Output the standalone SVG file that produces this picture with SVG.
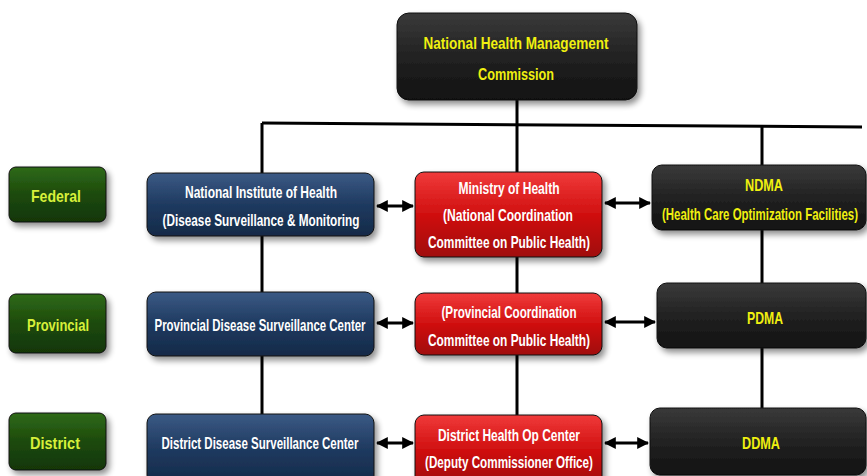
<svg xmlns="http://www.w3.org/2000/svg" width="867" height="476" viewBox="0 0 867 476">
<defs>
<linearGradient id="gBlack" x1="0" y1="0" x2="0" y2="1"><stop offset="0" stop-color="#3a3a3a"/><stop offset="0.5" stop-color="#222"/><stop offset="1" stop-color="#111"/></linearGradient>
<linearGradient id="gBlue" x1="0" y1="0" x2="0" y2="1"><stop offset="0" stop-color="#3b5a85"/><stop offset="0.5" stop-color="#1f3a60"/><stop offset="1" stop-color="#142a48"/></linearGradient>
<linearGradient id="gRed" x1="0" y1="0" x2="0" y2="1"><stop offset="0" stop-color="#f03a3a"/><stop offset="0.5" stop-color="#d01010"/><stop offset="1" stop-color="#a00808"/></linearGradient>
<linearGradient id="gGreen" x1="0" y1="0" x2="0" y2="1"><stop offset="0" stop-color="#2f6a18"/><stop offset="0.5" stop-color="#1d4a0c"/><stop offset="1" stop-color="#123606"/></linearGradient>
<filter id="sh" x="-10%" y="-10%" width="130%" height="140%"><feGaussianBlur in="SourceAlpha" stdDeviation="3"/><feOffset dx="3" dy="4"/><feComponentTransfer><feFuncA type="linear" slope="0.45"/></feComponentTransfer><feMerge><feMergeNode/><feMergeNode in="SourceGraphic"/></feMerge></filter>
<marker id="ah" viewBox="0 0 10 10" refX="9" refY="5" markerWidth="4" markerHeight="4" orient="auto-start-reverse"><path d="M0,0 L10,5 L0,10 z" fill="#000"/></marker>
</defs>
<style>
text{font-family:"Liberation Sans",Arial,sans-serif;font-weight:bold;text-anchor:middle;dominant-baseline:central;font-size:17px}
.y{fill:#f0f010}
.w{fill:#ffffff}
.lg{fill:#d6f03a}
.box{stroke:#111;stroke-width:1;filter:url(#sh)}
.bk{fill:url(#gBlack)}
.bl{fill:url(#gBlue)}
.rd{fill:url(#gRed)}
.gr{fill:url(#gGreen)}
.ln{stroke:#000;stroke-width:3;fill:none}
.ar{stroke:#000;stroke-width:3;fill:none;marker-start:url(#ah);marker-end:url(#ah)}
</style>
<g id="connectors">
<line class="ln" x1="517" y1="100" x2="517" y2="415"/>
<path class="ln" d="M262,123 L862,127"/>
<line class="ln" x1="262" y1="123" x2="262" y2="414"/>
<line class="ln" x1="762" y1="126" x2="762" y2="408"/>
<line class="ar" x1="377" y1="206" x2="413" y2="206"/>
<line class="ar" x1="605" y1="203" x2="650" y2="203"/>
<line class="ar" x1="377" y1="323" x2="413" y2="323"/>
<line class="ar" x1="605" y1="322" x2="655" y2="322"/>
<line class="ar" x1="377" y1="443" x2="413" y2="443"/>
<line class="ar" x1="605" y1="443" x2="648" y2="443"/>
</g>
<g id="nhmc"><rect class="box bk" x="397" y="13" width="240" height="87" rx="12"/><text class="y" x="516" y="43" font-size="19" textLength="185" lengthAdjust="spacingAndGlyphs">National Health Management</text><text class="y" x="516" y="74" font-size="19" textLength="76" lengthAdjust="spacingAndGlyphs">Commission</text></g>
<g id="federal"><rect class="box gr" x="9" y="167" width="97" height="55" rx="7"/><text class="lg" x="56" y="196" font-size="19" textLength="50" lengthAdjust="spacingAndGlyphs">Federal</text></g>
<g id="provincial"><rect class="box gr" x="9" y="294" width="97" height="59" rx="7"/><text class="lg" x="58" y="325" font-size="19" textLength="62" lengthAdjust="spacingAndGlyphs">Provincial</text></g>
<g id="district"><rect class="box gr" x="9" y="413" width="97" height="57" rx="7"/><text class="lg" x="55" y="443" font-size="19" textLength="50" lengthAdjust="spacingAndGlyphs">District</text></g>
<g id="nih"><rect class="box bl" x="147" y="173" width="227" height="63" rx="9"/><text class="w" x="261" y="192" textLength="152" lengthAdjust="spacingAndGlyphs">National Institute of Health</text><text class="w" x="261" y="220" textLength="197" lengthAdjust="spacingAndGlyphs">(Disease Surveillance &amp; Monitoring</text></g>
<g id="moh"><rect class="box rd" x="415" y="172" width="187" height="85" rx="9"/><text class="w" x="509" y="188" textLength="101" lengthAdjust="spacingAndGlyphs">Ministry of Health</text><text class="w" x="508" y="215" textLength="130" lengthAdjust="spacingAndGlyphs">(National Coordination</text><text class="w" x="509" y="242" textLength="162" lengthAdjust="spacingAndGlyphs">Committee on Public Health)</text></g>
<g id="ndma"><rect class="box bk" x="652" y="165" width="214" height="65" rx="10"/><text class="y" x="764" y="185" textLength="38" lengthAdjust="spacingAndGlyphs">NDMA</text><text class="y" x="0" y="0" transform="translate(760,214) scale(0.66,1)" textLength="297" lengthAdjust="spacingAndGlyphs">(Health Care Optimization Facilities)</text></g>
<g id="pdsc"><rect class="box bl" x="147" y="292" width="227" height="64" rx="9"/><text class="w" x="260" y="325" textLength="211" lengthAdjust="spacingAndGlyphs">Provincial Disease Surveillance Center</text></g>
<g id="pccph"><rect class="box rd" x="415" y="293" width="187" height="62" rx="9"/><text class="w" x="509" y="312" textLength="135" lengthAdjust="spacingAndGlyphs">(Provincial Coordination</text><text class="w" x="509" y="340" textLength="162" lengthAdjust="spacingAndGlyphs">Committee on Public Health)</text></g>
<g id="pdma"><rect class="box bk" x="657" y="283" width="209" height="65" rx="10"/><text class="y" x="765" y="318" textLength="36" lengthAdjust="spacingAndGlyphs">PDMA</text></g>
<g id="ddsc"><rect class="box bl" x="147" y="414" width="227" height="70" rx="9"/><text class="w" x="260" y="443" textLength="197" lengthAdjust="spacingAndGlyphs">District Disease Surveillance Center</text></g>
<g id="dhoc"><rect class="box rd" x="415" y="415" width="187" height="70" rx="9"/><text class="w" x="509" y="435" textLength="142" lengthAdjust="spacingAndGlyphs">District Health Op Center</text><text class="w" x="509" y="462" textLength="168" lengthAdjust="spacingAndGlyphs">(Deputy Commissioner Office)</text></g>
<g id="ddma"><rect class="box bk" x="650" y="408" width="216" height="67" rx="10"/><text class="y" x="761" y="443" textLength="38" lengthAdjust="spacingAndGlyphs">DDMA</text></g>
</svg>
